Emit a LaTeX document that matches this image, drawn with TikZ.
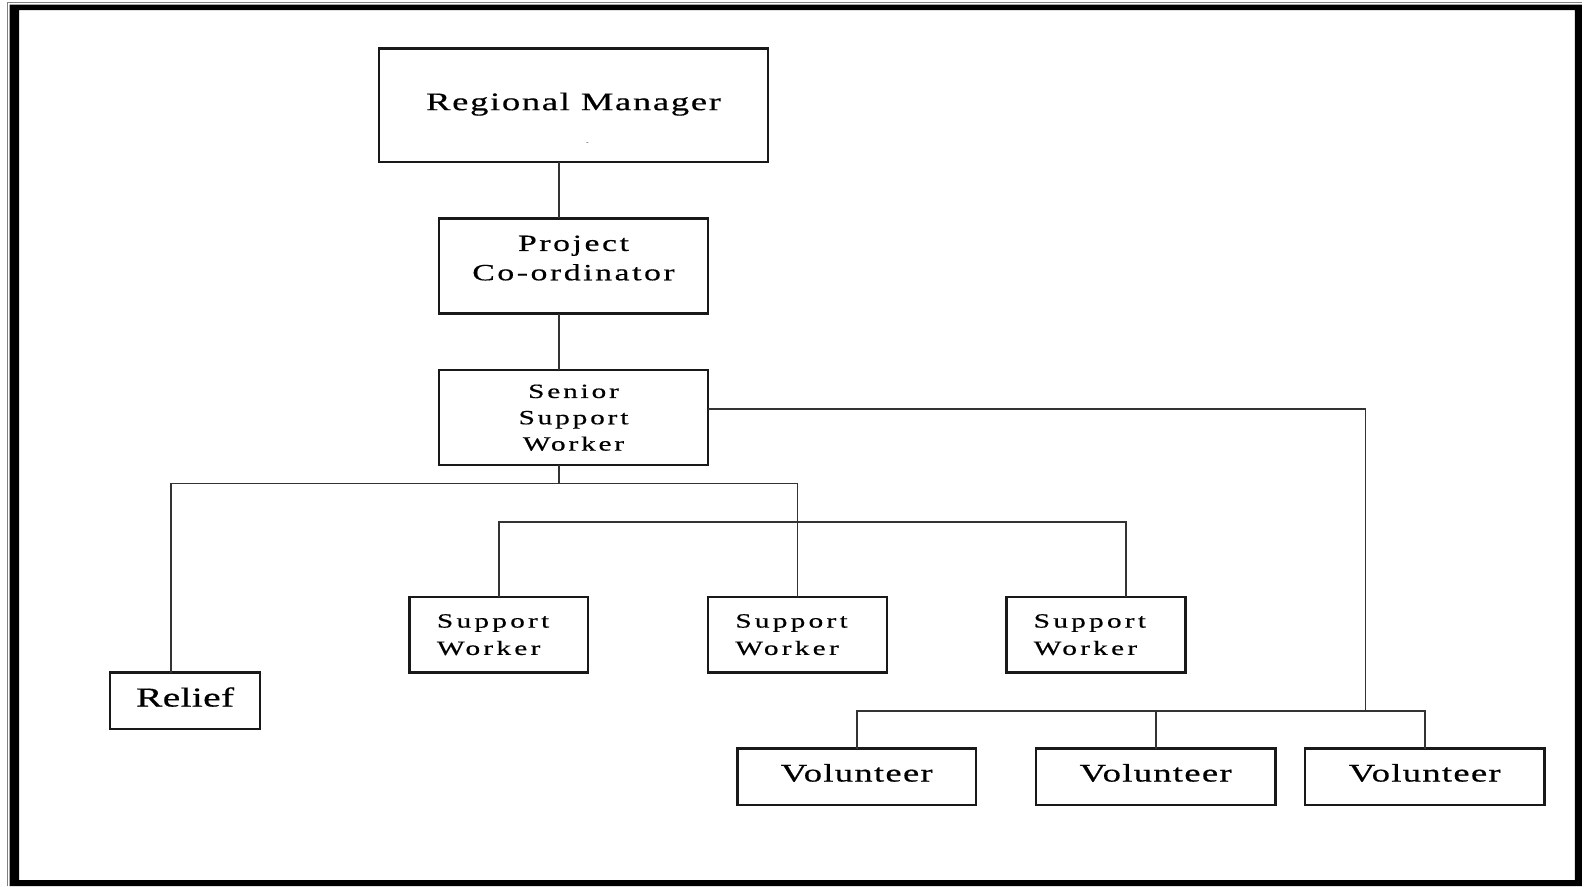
\documentclass[tikz,border=0pt]{standalone}
\usepackage{fontspec}
\usepackage{tikz}
\newfontfamily\orgfont{Liberation Serif}[FakeStretch=1.45, FakeBold=0.5]

\begin{document}
\begin{tikzpicture}[x=1pt, y=-1pt, node distance=0 cm, outer sep = 0pt]

\tikzstyle{post}=[draw=black!90, rectangle, line width=2.3pt, inner sep=0pt, anchor=north west, align=center]
\tikzstyle{link}=[draw=black!80, line width=1.8pt]

\useasboundingbox (0,0) rectangle (1568,876);
\fill[even odd rule] (9.5,4.5) rectangle (1564,876) (19,10) rectangle (1557,870);
\draw[gray, line width=0.8pt] (7,876) -- (7,2.5) -- (1564,2.5);

\node[post, minimum width=384, minimum height=112, text depth=7.5pt, font={\orgfont\addfontfeature{LetterSpace=6.5}\fontsize{25}{29}\selectfont}] (rm) at (375,48) {Regional Manager};
\node[font=\fontsize{6}{6}\selectfont] (rmmark) at (581,142) {-};
\node[post, minimum width=266, minimum height=94, text depth=16pt, font={\orgfont\addfontfeature{LetterSpace=11}\fontsize{23}{29}\selectfont}] (pc) at (434,216) {Project\\Co-ordinator};
\node[post, minimum width=266, minimum height=94, font={\orgfont\addfontfeature{LetterSpace=14}\fontsize{20}{26}\selectfont}] (ssw) at (434,366) {Senior\\Support\\Worker};

\tikzstyle{swbox}=[post, minimum width=177, minimum height=75, text width=123, align=left, font={\orgfont\addfontfeature{LetterSpace=16}\fontsize{20}{27}\selectfont}]
\node[swbox, minimum width=176, text width=122] (sw1) at (405,590) {Support\\Worker}; \node[swbox] (sw2) at (700,590) {Support\\Worker}; \node[swbox] (sw3) at (995,590) {Support\\Worker};
\node[post, minimum width=148, minimum height=56, text depth=8pt, font={\orgfont\addfontfeature{LetterSpace=1}\fontsize{27}{30}\selectfont}] (relief) at (109,665) {Relief};

\tikzstyle{volbox}=[post, minimum width=237, minimum height=56, text depth=8pt, font={\orgfont\addfontfeature{LetterSpace=5}\fontsize{25}{29}\selectfont}]
\node[volbox, minimum width=236] (vol1) at (729,740) {Volunteer}; \node[volbox] (vol2) at (1024,740) {Volunteer}; \node[volbox] (vol3) at (1290,740) {Volunteer};

\coordinate (lbus) at (553,478); \coordinate (swbus) at (800,516); \coordinate (vbus) at (1350,703);

\draw[link] ([xshift=-14pt]rm.south) -- ([xshift=-14pt]pc.north);
\draw[link] ([xshift=-14pt]pc.south) -- ([xshift=-14pt]ssw.north);
\draw[link] ([xshift=-14pt]ssw.south) -- (lbus);
\draw[link] ([xshift=-14pt]relief.north) |- (lbus) -| (sw2.north);
\draw[link] (sw1.north) -- (sw1.north |- swbus) -| ([xshift=29.5pt]sw3.north);
\draw[link] ([yshift=9pt]ssw.east) -| (vbus);
\draw[link] (vol1.north) -- (vol1.north |- vbus) -| (vol3.north);
\draw[link] (vol2.north) -- (vol2.north |- vbus);

\end{tikzpicture}
\end{document}
